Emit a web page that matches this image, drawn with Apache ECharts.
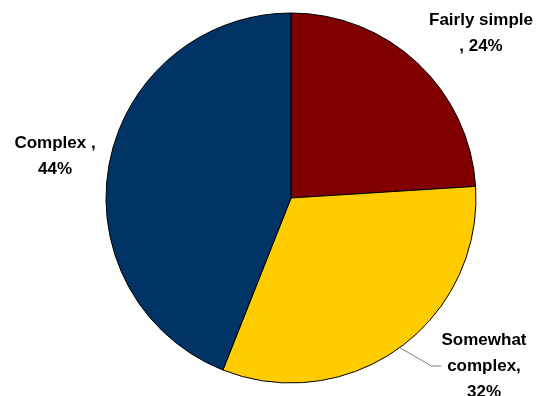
<!DOCTYPE html>
<html>
<head>
<meta charset="utf-8">
<script src="https://cdn.jsdelivr.net/npm/echarts@6/dist/echarts.min.js"></script>
<style>
  html, body { margin: 0; padding: 0; background: #fff; }
  #chart { width: 540px; height: 396px; }
</style>
</head>
<body>
<div id="chart"></div>
<script>
// Share of tasks by complexity
var categories = ['Fairly simple', 'Somewhat complex', 'Complex'];
var shares = [24, 32, 44];
var labelTexts = ['Fairly simple\n, 24%', 'Somewhat\ncomplex,\n32%', 'Complex ,\n44%'];
var colors = ['#800000', '#FFCC00', '#003366'];

// where each label block sits (centre x, top y)
var labelAnchors = [
  { x: 481, y: 7 },
  { x: 484, y: 327 },
  { x: 55, y: 130 }
];

var chart = echarts.init(document.getElementById('chart'), null, { renderer: 'canvas' });

var data = categories.map(function (name, i) {
  return {
    name: name,
    value: shares[i],
    itemStyle: { color: colors[i] },
    labelLine: { show: i === 1 }
  };
});

chart.setOption({
  backgroundColor: '#ffffff',
  animation: false,
  series: [{
    type: 'pie',
    center: [291, 198],
    radius: 185,
    startAngle: 90,
    clockwise: true,
    avoidLabelOverlap: false,
    data: data,
    itemStyle: { borderColor: '#000000', borderWidth: 1 },
    label: {
      show: true,
      position: 'outside',
      formatter: function (p) { return labelTexts[p.dataIndex]; },
      fontFamily: 'Liberation Sans, Arial, sans-serif',
      fontWeight: 'bold',
      fontSize: 17,
      lineHeight: 26,
      color: '#000000',
      align: 'center'
    },
    labelLine: {
      length: 25,
      length2: 10,
      smooth: false,
      lineStyle: { color: '#808080', width: 1 }
    },
    labelLayout: function (params) {
      var a = labelAnchors[params.dataIndex];
      return { x: a.x, y: a.y, align: 'center', verticalAlign: 'top' };
    },
    emphasis: { disabled: true }
  }]
});
</script>
</body>
</html>
